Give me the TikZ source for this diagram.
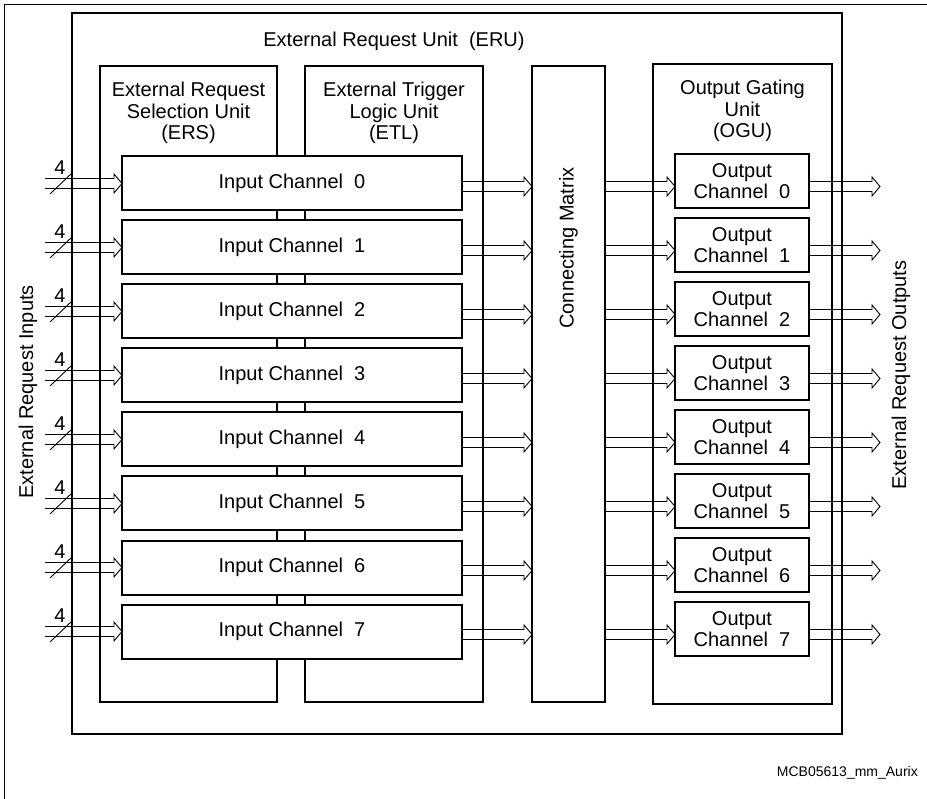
\documentclass[tikz,border=0pt]{standalone}
\usepackage{fontspec}
\setmainfont{Liberation Sans}
\usetikzlibrary{arrows.meta, positioning, backgrounds, calc}

\begin{document}
\begin{tikzpicture}[
      x=1pt, y=-1pt,
      node distance=10pt and 26pt,
      lbl/.style={font=\fontsize{20}{21.5}\selectfont, align=center, inner sep=0pt},
      unit/.style={draw, line width=2pt, inner sep=0pt, outer sep=0pt,
                   minimum height=636pt},
      chan/.style={draw, line width=2pt, fill=white, inner sep=0pt, outer sep=0pt,
                   minimum height=54pt, lbl},
      bus/.style={line width=0.9pt, to path={
          let \p1=(\tikztostart), \p2=(\tikztotarget) in
          (\x1,\y1+5pt) -- (\x2-8pt,\y1+5pt) -- (\x2-8pt,\y1+9.5pt) -- (\x2,\y1)
          -- (\x2-8pt,\y1-9.5pt) -- (\x2-8pt,\y1-5pt) -- (\x1,\y1-5pt)}},
      idnote/.style={font=\fontsize{14}{16}\selectfont, inner sep=0pt}
    ]
    \useasboundingbox (0,0) rectangle (927,799);
    \draw[line width=1pt] (4,799) |- (927,5);

    \node[unit, minimum width=770pt, minimum height=721pt] (eru) at (457,373.5) {};
    \node[unit, minimum width=177pt] (ers) at (188.5,384) {};
    \node[unit, minimum width=178pt, right=28pt of ers] (etl) {};
    \node[unit, minimum width=73pt, right=49pt of etl] (mx) {};
    \node[unit, minimum width=179pt, minimum height=640pt, right=48pt of mx] (ogu) {};

    \node[lbl, above=15pt of etl] (eruT) {External Request Unit~~(ERU)};
    \node[lbl, below=16pt of ers.north] (ersT) {External Request\\Selection Unit\\(ERS)};
    \node[lbl, below=16pt of etl.north] (etlT) {External Trigger\\Logic Unit\\(ETL)};
    \node[lbl, below=16pt of ogu.north] (oguT) {Output Gating\\Unit\\(OGU)};
    \node[lbl, rotate=90] (mxT) at ([yshift=136pt]mx.center) {Connecting Matrix};

    \node[chan, minimum width=340pt] (ic0) at (292,183.5) {Input Channel~~0};
    \node[chan, minimum width=340pt, below=of ic0] (ic1) {Input Channel~~1};
    \node[chan, minimum width=340pt, below=of ic1] (ic2) {Input Channel~~2};
    \node[chan, minimum width=340pt, below=of ic2] (ic3) {Input Channel~~3};
    \node[chan, minimum width=340pt, below=of ic3] (ic4) {Input Channel~~4};
    \node[chan, minimum width=340pt, below=of ic4] (ic5) {Input Channel~~5};
    \node[chan, minimum width=340pt, below=of ic5] (ic6) {Input Channel~~6};
    \node[chan, minimum width=340pt, below=of ic6] (ic7) {Input Channel~~7};

    \node[chan, minimum width=134pt] (oc0) at (742,181) {Output\\Channel~~0};
    \node[chan, minimum width=134pt, below=of oc0] (oc1) {Output\\Channel~~1};
    \node[chan, minimum width=134pt, below=of oc1] (oc2) {Output\\Channel~~2};
    \node[chan, minimum width=134pt, below=of oc2] (oc3) {Output\\Channel~~3};
    \node[chan, minimum width=134pt, below=of oc3] (oc4) {Output\\Channel~~4};
    \node[chan, minimum width=134pt, below=of oc4] (oc5) {Output\\Channel~~5};
    \node[chan, minimum width=134pt, below=of oc5] (oc6) {Output\\Channel~~6};
    \node[chan, minimum width=134pt, below=of oc6] (oc7) {Output\\Channel~~7};

    \node[lbl, rotate=90] (inT) at (28,392) {External Request Inputs};
    \node[lbl, rotate=90] (outT) at (901,375) {External Request Outputs};
    \node[idnote, anchor=east] (mcb) at (918,773) {MCB05613\_mm\_Aurix};

    % buses sit under the unit frames
    \begin{scope}[on background layer]
      \foreach \i in {0,...,7} {
        \coordinate (in\i) at (ic\i.west -| 45,0);
        \coordinate (r\i) at ([yshift=-3pt]ic\i.east);
        \coordinate (out\i) at (r\i -| 880,0);
        \draw[bus] (in\i) to (ic\i.west);
        \draw[bus] (r\i) to (mx.west |- r\i);
        \draw[bus] (mx.east |- r\i) to (oc\i.west |- r\i);
        \draw[bus] (oc\i.east |- r\i) to (out\i);
      }
    \end{scope}

    % bus width marks
    \foreach \i in {0,...,7} {
      \draw[line width=0.9pt] ([shift={(5,10.5)}]in\i) -- ([shift={(27,-10.5)}]in\i);
      \node[lbl] (w\i) at ([shift={(15,-16)}]in\i) {4};
    }
  \end{tikzpicture}
\end{document}
